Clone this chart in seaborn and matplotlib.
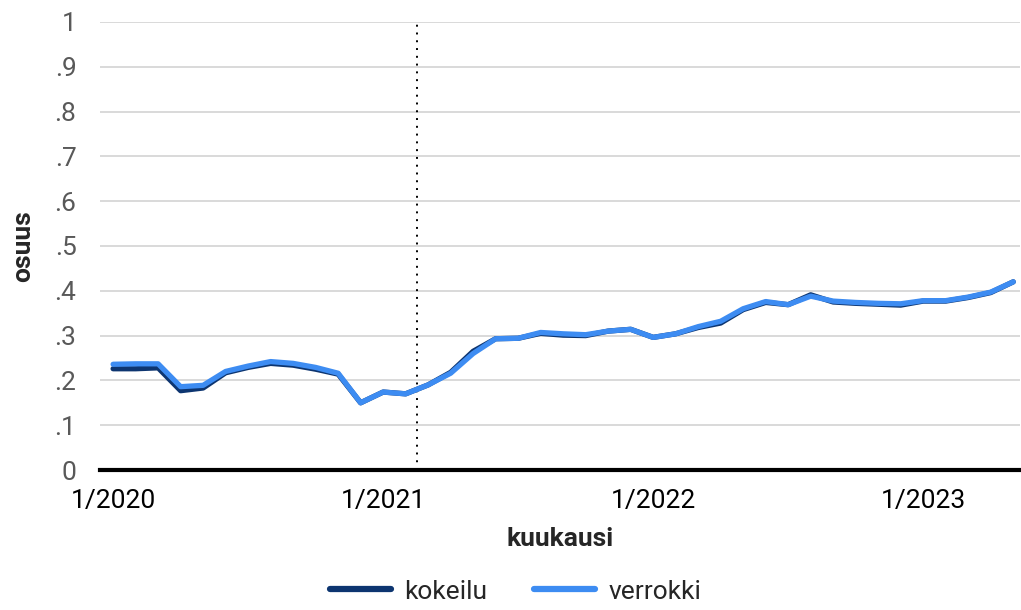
import numpy as np
import pandas as pd
import matplotlib
matplotlib.use("Agg")
import matplotlib.pyplot as plt
import seaborn as sns
from matplotlib.lines import Line2D

# --- data: monthly share, 1/2020 .. 5/2023 ---
months = pd.period_range("2020-01", "2023-05", freq="M").strftime("%-m/%Y").tolist()
verrokki = [0.236, 0.237, 0.237, 0.186, 0.189, 0.220, 0.232, 0.242, 0.238, 0.229,
            0.216, 0.150, 0.174, 0.170, 0.190, 0.216, 0.260, 0.293, 0.294, 0.307,
            0.304, 0.302, 0.310, 0.314, 0.296, 0.304, 0.320, 0.332, 0.360, 0.376,
            0.369, 0.388, 0.377, 0.374, 0.372, 0.371, 0.378, 0.378, 0.386, 0.397,
            0.420]
kokeilu = [0.226, 0.226, 0.228, 0.177, 0.183, 0.217, 0.229, 0.238, 0.234, 0.225,
           0.214, 0.150, 0.174, 0.170, 0.190, 0.218, 0.265, 0.293, 0.294, 0.305,
           0.301, 0.300, 0.310, 0.314, 0.296, 0.304, 0.318, 0.328, 0.358, 0.374,
           0.369, 0.391, 0.375, 0.372, 0.370, 0.368, 0.377, 0.377, 0.385, 0.396,
           0.420]
groups = ["kokeilu", "verrokki"]
ytick_vals = [0, .1, .2, .3, .4, .5, .6, .7, .8, .9, 1]
ytick_labels = ["0", ".1", ".2", ".3", ".4", ".5", ".6", ".7", ".8", ".9", "1"]
xtick_labels = ["1/2020", "1/2021", "1/2022", "1/2023"]
start_line = 13.5  # experiment start, between 2/2021 and 3/2021

n = len(months)
df = pd.DataFrame({
    "kk": np.tile(np.arange(n), 2),
    "osuus": kokeilu + verrokki,
    "ryhma": np.repeat(groups, n),
})

sns.set_style("white")
plt.rcParams["font.family"] = ["Roboto", "DejaVu Sans"]

fig = plt.figure(figsize=(10.21, 6.10), dpi=100)
ax = fig.add_axes([0.098, 0.2295, 0.901, 0.7345])

palette = {"kokeilu": "#0d3570", "verrokki": "#3d8cf2"}
sns.lineplot(data=df, x="kk", y="osuus", hue="ryhma", hue_order=groups,
             palette=palette, linewidth=3.8, ax=ax, legend=False,
             solid_capstyle="round", solid_joinstyle="round")

ax.axvline(start_line, color="black", linestyle=(0, (1, 3)), linewidth=1.4, zorder=1)

# axes styling
ax.set_ylim(0, 1)
ax.set_xlim(-0.58, 40.3)
ax.set_yticks(ytick_vals)
ax.set_yticklabels(ytick_labels, color="#595959", fontsize=19)
ax.set_xticks([months.index(m) for m in xtick_labels])
ax.set_xticklabels(xtick_labels, fontsize=19, color="black")
ax.tick_params(axis="both", length=0)
ax.tick_params(axis="y", pad=17)
ax.tick_params(axis="x", pad=14)
ax.grid(axis="y", color="#d9d9d9", linewidth=1.4)
ax.set_axisbelow(True)
for s in ["top", "right", "left"]:
    ax.spines[s].set_visible(False)
ax.spines["bottom"].set_color("black")
ax.spines["bottom"].set_linewidth(3)
ax.spines["bottom"].set_zorder(5)

ax.set_xlabel("kuukausi", fontsize=19, fontweight="bold", labelpad=10)
ax.set_ylabel("osuus", fontsize=19, fontweight="bold", labelpad=14)

handles = [Line2D([0], [0], color=palette[g], linewidth=4.5, solid_capstyle="round")
           for g in groups]
fig.legend(handles, groups, loc="center", bbox_to_anchor=(0.505, 0.03), ncol=2,
           frameon=False, fontsize=19, handlelength=2.3, columnspacing=1.8,
           handletextpad=0.5)

fig.savefig("out.png", dpi=100)
